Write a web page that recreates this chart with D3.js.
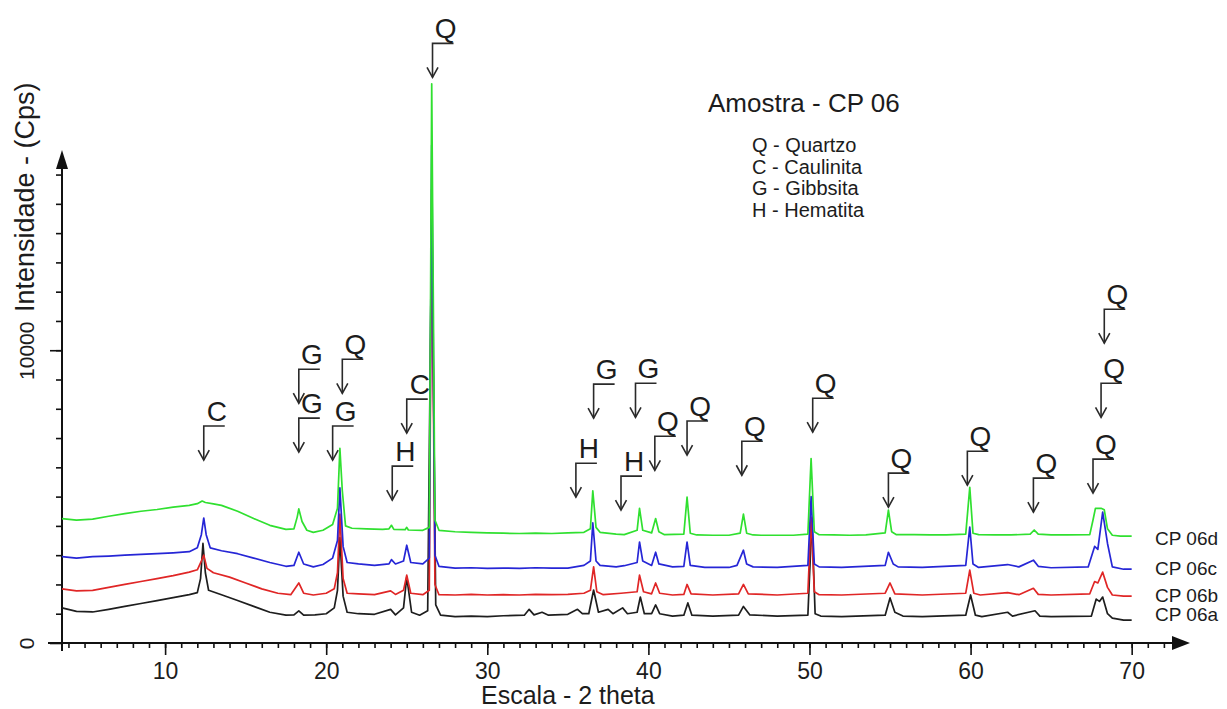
<!DOCTYPE html>
<html>
<head>
<meta charset="utf-8">
<script src="https://cdn.jsdelivr.net/npm/d3@7"></script>
<style>
    body { margin: 0; background: #fff; }
    text { font-family: "Liberation Sans", Arial, sans-serif; fill: #1c1c1c; }
</style>
</head>
<body>
<div id="chart"></div>
<script>
// series names (bottom to top) and colours
const seriesNames = ["CP 06a", "CP 06b", "CP 06c", "CP 06d"];
const seriesColors = ["#1e1e1e", "#e02626", "#2626d6", "#30e030"];

// [2 theta, counts]
const cp06a = [
    [3.6, 1200], [4.5, 1080], [5.5, 1060], [6.5, 1150], [7.5, 1250], [8.5, 1350], [9.5, 1450],
    [10.5, 1550], [11.5, 1650], [12.0, 1720], [12.2, 2200], [12.35, 3400], [12.5, 2400], [12.7, 1800],
    [13.5, 1650], [14.5, 1450], [15.5, 1250], [16.5, 1050], [17.5, 950], [18.0, 960], [18.3, 1100],
    [18.6, 950], [19.3, 960], [20.0, 1000], [20.5, 1200], [20.7, 1800], [20.85, 3600], [21.05, 1600],
    [21.3, 1050], [22, 1000], [23, 980], [24.0, 1150], [24.3, 960], [24.8, 1200], [25.0, 2250],
    [25.3, 1050], [25.8, 950], [26.3, 1100], [26.55, 14500], [26.8, 1300], [27.1, 950], [28, 900],
    [29, 920], [30, 900], [31, 930], [32.3, 950], [32.6, 1150], [32.9, 960], [33.4, 1050], [33.8, 950],
    [35, 980], [35.6, 1150], [35.9, 1000], [36.3, 1000], [36.6, 1810], [36.9, 1050], [37.5, 1150],
    [37.8, 1000], [38.4, 1200], [38.7, 1000], [39.3, 1050], [39.5, 1570], [39.75, 1000], [40.2, 1000],
    [40.45, 1300], [40.7, 1000], [41.5, 920], [42.2, 950], [42.45, 1370], [42.7, 950], [44, 920],
    [45.6, 950], [45.9, 1250], [46.3, 960], [48, 920], [49.9, 950], [50.15, 4200], [50.35, 1000],
    [50.7, 920], [52, 900], [54.7, 950], [55.0, 1540], [55.3, 1050], [55.8, 920], [57, 900],
    [59.7, 950], [60.0, 1640], [60.3, 950], [60.7, 900], [62.3, 1050], [62.6, 920], [64.0, 1100],
    [64.3, 920], [65, 900], [67.5, 920], [67.8, 1500], [68.0, 1420], [68.2, 1570], [68.5, 1000],
    [68.8, 850], [69.5, 780], [70, 780]
];
const cp06b = [
    [3.6, 1850], [4.5, 1780], [5.5, 1800], [6.5, 1900], [7.5, 2000], [8.5, 2100], [9.5, 2200],
    [10.5, 2300], [11.5, 2420], [12.0, 2500], [12.25, 2800], [12.4, 3000], [12.6, 2550], [13.0, 2400],
    [14, 2250], [15, 2050], [16, 1850], [17, 1700], [17.8, 1650], [18.3, 2050], [18.6, 1700],
    [19.2, 1640], [20, 1700], [20.5, 1850], [20.7, 2400], [20.85, 4400], [21.05, 2200], [21.3, 1700],
    [22, 1680], [23, 1650], [24.0, 1780], [24.3, 1660], [24.8, 1800], [25.0, 2320], [25.25, 1700],
    [26.0, 1650], [26.4, 1800], [26.55, 15500], [26.75, 2000], [27, 1650], [28, 1640], [29, 1660],
    [30, 1640], [31, 1650], [32, 1640], [33, 1660], [34, 1650], [35, 1660], [36, 1700], [36.4, 1800],
    [36.6, 2600], [36.8, 1750], [37.2, 1650], [38.3, 1700], [39.3, 1750], [39.45, 2320], [39.7, 1750],
    [40.2, 1680], [40.45, 2050], [40.7, 1700], [41.5, 1640], [42.2, 1660], [42.4, 2000], [42.65, 1680],
    [44, 1640], [45.6, 1680], [45.9, 2000], [46.2, 1680], [48, 1640], [49.9, 1700], [50.1, 4300],
    [50.3, 1750], [50.6, 1650], [52, 1640], [54.7, 1700], [55.0, 2050], [55.3, 1680], [57, 1640],
    [59.7, 1700], [59.95, 2490], [60.2, 1700], [60.6, 1640], [62.3, 1720], [63, 1650], [63.9, 1870],
    [64.2, 1660], [65, 1640], [67.4, 1680], [67.7, 2100], [67.9, 2050], [68.2, 2420], [68.5, 1900],
    [68.8, 1640], [69.5, 1600], [70, 1600]
];
const cp06c = [
    [3.6, 2950], [4.5, 2900], [5.5, 2950], [6.5, 2970], [7.5, 3000], [8.5, 3030], [9.5, 3050],
    [10.5, 3080], [11.5, 3120], [12.0, 3250], [12.25, 3700], [12.4, 4270], [12.55, 3700], [12.8, 3250],
    [13.5, 3150], [14.5, 3050], [15.5, 2900], [16.5, 2750], [17.5, 2620], [18.0, 2650], [18.3, 3100],
    [18.6, 2700], [19.2, 2600], [19.8, 2680], [20.4, 2900], [20.7, 3500], [20.85, 5300], [21.05, 3300],
    [21.3, 2750], [22, 2700], [23, 2650], [23.9, 2700], [24.05, 2850], [24.3, 2700], [24.8, 2800],
    [25.0, 3340], [25.25, 2750], [26.0, 2700], [26.4, 2900], [26.55, 17000], [26.75, 3000], [27.0, 2620],
    [28, 2560], [29, 2570], [30, 2550], [31, 2560], [32, 2550], [33, 2570], [34, 2560], [35, 2560],
    [36.0, 2650], [36.4, 2800], [36.55, 4100], [36.75, 2800], [37.0, 2650], [38, 2600], [38.5, 2640],
    [39.3, 2750], [39.45, 3450], [39.65, 2800], [40.2, 2650], [40.45, 3100], [40.65, 2700], [41.5, 2600],
    [42.2, 2620], [42.4, 3450], [42.6, 2650], [43.5, 2580], [45, 2580], [45.5, 2650], [45.9, 3170],
    [46.1, 2700], [46.5, 2600], [48, 2580], [49.9, 2650], [50.1, 5000], [50.3, 2700], [50.6, 2600],
    [52, 2580], [54.7, 2650], [54.9, 3100], [55.2, 2700], [55.5, 2600], [57, 2580], [59.7, 2650],
    [59.95, 3960], [60.15, 2700], [60.5, 2580], [62.3, 2680], [63, 2600], [63.9, 2830], [64.2, 2620],
    [65, 2570], [67.3, 2600], [67.7, 3300], [67.9, 3200], [68.2, 4470], [68.5, 3400], [68.8, 2600],
    [69.5, 2520], [70, 2520]
];
const cp06d = [
    [3.6, 4250], [4.5, 4200], [5.5, 4230], [6.5, 4330], [7.5, 4420], [8.5, 4500], [9.5, 4560],
    [10.5, 4640], [11.5, 4700], [12.0, 4760], [12.3, 4850], [12.5, 4800], [13.0, 4750], [13.5, 4700],
    [14.5, 4500], [15.5, 4250], [16.5, 4020], [17.5, 3880], [18.0, 3900], [18.2, 4300], [18.3, 4580],
    [18.5, 4150], [18.8, 3850], [19.2, 3780], [19.8, 3850], [20.4, 4050], [20.7, 4600], [20.85, 6650],
    [21.0, 5200], [21.2, 4000], [21.6, 3920], [22.5, 3900], [23.5, 3880], [23.9, 3900], [24.05, 4020],
    [24.2, 3880], [24.9, 3870], [25.0, 3950], [25.1, 3860], [26.0, 3850], [26.4, 3950], [26.55, 19100],
    [26.75, 4200], [27.0, 3850], [28, 3800], [29, 3780], [30, 3760], [31, 3750], [32, 3740], [33, 3750],
    [34, 3740], [35, 3760], [36, 3780], [36.4, 3900], [36.55, 5200], [36.75, 3950], [37.0, 3780],
    [38.0, 3720], [38.5, 3700], [39.3, 3850], [39.45, 4600], [39.65, 3850], [40.2, 3760], [40.45, 4250],
    [40.65, 3800], [41, 3700], [42.2, 3720], [42.4, 4980], [42.6, 3750], [43, 3690], [44, 3680],
    [45, 3680], [45.7, 3750], [45.9, 4400], [46.1, 3750], [46.5, 3690], [47, 3680], [48, 3680],
    [49, 3680], [49.9, 3720], [50.1, 6300], [50.3, 3800], [50.6, 3700], [51.5, 3690], [52.5, 3680],
    [53.5, 3690], [54.7, 3760], [54.9, 4540], [55.1, 3800], [55.4, 3700], [56.5, 3700], [57.5, 3690],
    [58.5, 3690], [59.7, 3720], [59.95, 5320], [60.15, 3750], [60.5, 3700], [61.5, 3690], [62.5, 3690],
    [63.7, 3720], [63.95, 3860], [64.2, 3720], [65, 3690], [66, 3690], [67.4, 3700], [67.6, 4200],
    [67.75, 4600], [68.1, 4600], [68.3, 4550], [68.5, 3900], [68.8, 3680], [69.3, 3650], [70, 3650]
];
const allSeries = [cp06a, cp06b, cp06c, cp06d];

// axis ticks
const xMajorTicks = [10, 20, 30, 40, 50, 60, 70];
const xMinorTicks = d3.range(4, 73, 1);
const yMajorTicks = [0, 10000];
const yMinorTicks = d3.range(1000, 16001, 1000);

// phase legend
const legendTitle = "Amostra - CP 06";
const legendLines = ["Q - Quartzo", "C - Caulinita", "G - Gibbsita", "H - Hematita"];

// peak markers: letter, 2 theta of the arrow, counts at the arrow tip
const peakMarks = [
    { label: "C", theta: 12.4, tip: 6250 },
    { label: "G", theta: 18.3, tip: 8190 },
    { label: "G", theta: 18.3, tip: 6520 },
    { label: "Q", theta: 21.0, tip: 8530 },
    { label: "G", theta: 20.4, tip: 6250 },
    { label: "C", theta: 25.0, tip: 7170 },
    { label: "H", theta: 24.1, tip: 4880 },
    { label: "Q", theta: 26.6, tip: 19320 },
    { label: "H", theta: 35.5, tip: 4980 },
    { label: "G", theta: 36.6, tip: 7680 },
    { label: "H", theta: 38.3, tip: 4540 },
    { label: "G", theta: 39.2, tip: 7710 },
    { label: "Q", theta: 40.4, tip: 5900 },
    { label: "Q", theta: 42.4, tip: 6420 },
    { label: "Q", theta: 45.8, tip: 5730 },
    { label: "Q", theta: 50.2, tip: 7200 },
    { label: "Q", theta: 54.9, tip: 4640 },
    { label: "Q", theta: 59.8, tip: 5390 },
    { label: "Q", theta: 63.9, tip: 4470 },
    { label: "Q", theta: 67.6, tip: 5120 },
    { label: "Q", theta: 68.1, tip: 7710 },
    { label: "Q", theta: 68.3, tip: 10240 }
];

const width = 1227, height = 709;
const svg = d3.select("#chart").append("svg")
    .attr("width", width)
    .attr("height", height);

const x = d3.scaleLinear().domain([3.6, 73]).range([62, 1180]);
const y = d3.scaleLinear().domain([0, 16600]).range([643, 157]);

// ---- axes ----
const axisG = svg.append("g");

const xMinor = axisG.append("g").attr("transform", `translate(0,${y(0)})`)
    .call(d3.axisBottom(x).tickValues(xMinorTicks).tickSize(5).tickFormat(""));
const xMajor = axisG.append("g").attr("transform", `translate(0,${y(0)})`)
    .call(d3.axisBottom(x).tickValues(xMajorTicks).tickSize(12).tickPadding(8));
const yMinor = axisG.append("g").attr("transform", `translate(${x(3.6)},0)`)
    .call(d3.axisLeft(y).tickValues(yMinorTicks).tickSize(6).tickFormat(""));
const yMajor = axisG.append("g").attr("transform", `translate(${x(3.6)},0)`)
    .call(d3.axisLeft(y).tickValues(yMajorTicks).tickSize(12).tickFormat(d3.format("d")));

axisG.selectAll(".domain").remove();
axisG.selectAll(".tick line").attr("stroke", "#111").attr("stroke-width", 1.6);

xMajor.selectAll(".tick text")
    .attr("font-size", 23)
    .attr("fill", "#1c1c1c");

yMajor.selectAll(".tick text")
    .attr("font-size", 21)
    .attr("fill", "#1c1c1c")
    .attr("text-anchor", "middle")
    .attr("x", 0).attr("dy", 0)
    .attr("transform", "translate(-28,0) rotate(-90)");

// axis lines with arrow heads
const x0 = x(3.6), y0 = y(0);
axisG.append("path")
    .attr("d", `M48,${y0}H${x.range()[1]}`)
    .attr("stroke", "#111").attr("stroke-width", 2);
axisG.append("path")
    .attr("d", `M${x.range()[1] - 8},${y0 - 7}L${x.range()[1] + 10},${y0}L${x.range()[1] - 8},${y0 + 7}Z`)
    .attr("fill", "#111");
axisG.append("path")
    .attr("d", `M${x0},${y0 + 8}V${y.range()[1]}`)
    .attr("stroke", "#111").attr("stroke-width", 2);
axisG.append("path")
    .attr("d", `M${x0 - 6},${y.range()[1] + 12}L${x0},${y.range()[1] - 7}L${x0 + 6},${y.range()[1] + 12}Z`)
    .attr("fill", "#111");

// axis titles
svg.append("text")
    .attr("x", 481).attr("y", 704)
    .attr("font-size", 25)
    .text("Escala - 2 theta");
svg.append("text")
    .attr("transform", "translate(34,312) rotate(-90)")
    .attr("font-size", 27)
    .text("Intensidade - (Cps)");

// ---- diffractograms ----
const line = d3.line()
    .x(d => x(d[0]))
    .y(d => y(d[1]));

allSeries.forEach((series, i) => {
    svg.append("path")
        .datum(series)
        .attr("d", line)
        .attr("fill", "none")
        .attr("stroke", seriesColors[i])
        .attr("stroke-width", 1.7)
        .attr("stroke-linejoin", "round");
});

// series names at the right end
const labelOffsets = [1, 6, 6, 9];
allSeries.forEach((series, i) => {
    const last = series[series.length - 1];
    svg.append("text")
        .attr("x", 1155)
        .attr("y", y(last[1]) + labelOffsets[i])
        .attr("font-size", 19)
        .text(seriesNames[i]);
});

// ---- peak arrows ----
const marks = svg.append("g").attr("class", "peak-marks");
peakMarks.forEach(d => {
    const sx = x(d.theta), ty = y(d.tip);
    const barY = ty - 34;
    marks.append("path")
        .attr("d", `M${sx + 21},${barY}H${sx}V${ty}`)
        .attr("fill", "none")
        .attr("stroke", "#2a2a2a")
        .attr("stroke-width", 1.6);
    marks.append("path")
        .attr("d", `M${sx - 5.5},${ty - 10}L${sx},${ty}L${sx + 5.5},${ty - 10}`)
        .attr("fill", "none")
        .attr("stroke", "#2a2a2a")
        .attr("stroke-width", 1.6);
    marks.append("text")
        .attr("x", sx + 13)
        .attr("y", barY - 5)
        .attr("text-anchor", "middle")
        .attr("font-size", 28)
        .text(d.label);
});

// ---- legend ----
svg.append("text")
    .attr("x", 708).attr("y", 112)
    .attr("font-size", 26)
    .text(legendTitle);
legendLines.forEach((t, i) => {
    svg.append("text")
        .attr("x", 752)
        .attr("y", 152 + i * 21.7)
        .attr("font-size", 20)
        .text(t);
});
</script>
</body>
</html>
